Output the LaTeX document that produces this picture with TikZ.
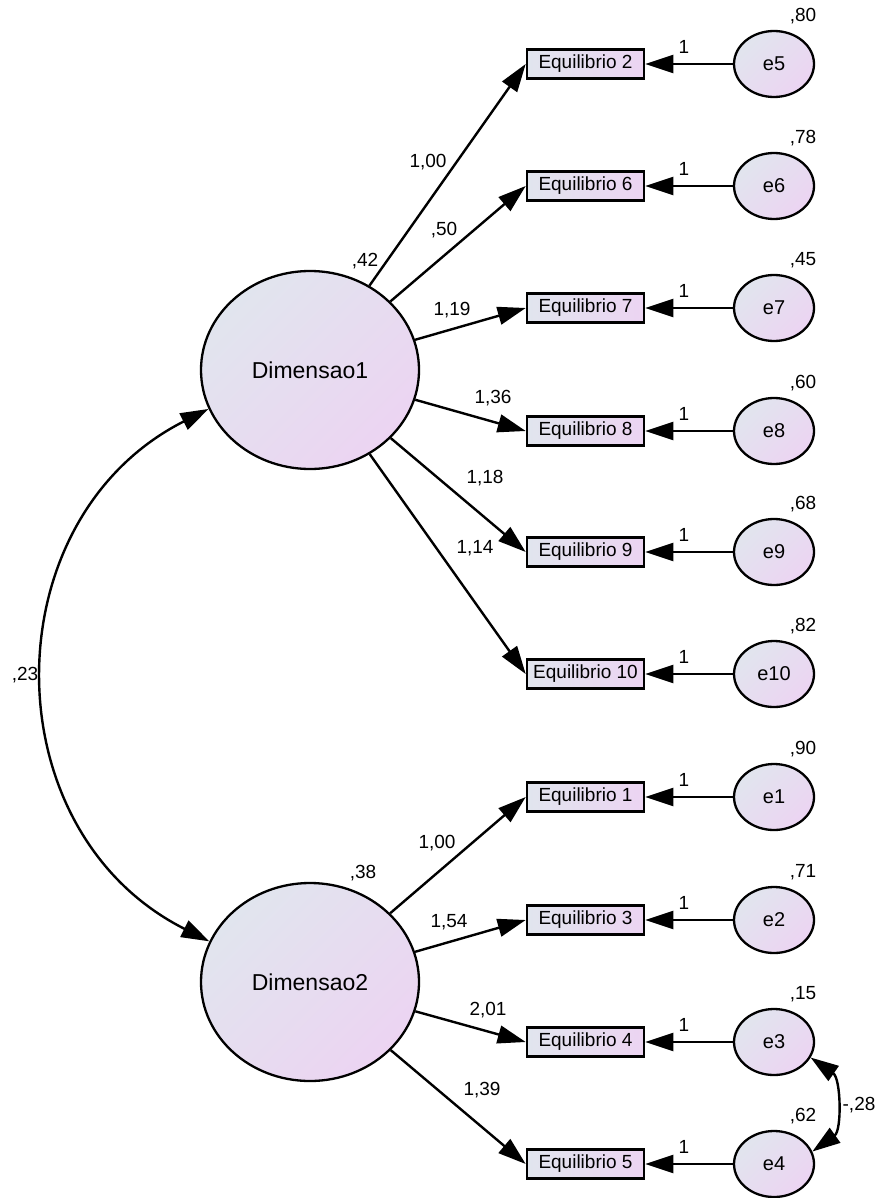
\documentclass[tikz,border=0pt]{standalone}
\usepackage{fontspec}
\setmainfont{Liberation Sans}
\usetikzlibrary{shapes.geometric,arrows.meta}
\definecolor{cA}{HTML}{E1E5EE}
\definecolor{cB}{HTML}{ECD4F2}
\begin{document}
\begin{tikzpicture}[x=1pt,y=-1pt,
 obs/.style={draw, line width=2.6pt, minimum width=117pt, minimum height=29pt, inner sep=0pt, left color=cA, right color=cB, font=\fontsize{19}{21}\selectfont},
 err/.style={draw, ellipse, line width=2.3pt, minimum width=80pt, minimum height=66pt, inner sep=0pt, top color=cA, bottom color=cB, shading angle=45, font=\fontsize{20}{22}\selectfont},
 lat/.style={draw, ellipse, line width=2.3pt, minimum width=218pt, minimum height=198pt, inner sep=0pt, top color=cA, bottom color=cB, shading angle=45, font=\fontsize{23}{25}\selectfont},
 lbl/.style={inner sep=0pt, font=\fontsize{19}{21}\selectfont},
 arr/.style={line width=2.4pt, -{Triangle[length=28pt,width=18pt]}},
 biarr/.style={line width=2.4pt, {Triangle[length=28pt,width=18pt]}-{Triangle[length=28pt,width=18pt]}},
]
\useasboundingbox (0,0) rectangle (877,1198);

% latent variables
\node[lat] (D1) at (310,370) {Dimensao1};
\node[lat] (D2) at (310,982) {Dimensao2};

% observed variables
\node[obs] (E2) at (585.5,64) {Equilibrio 2};
\node[obs] (E6) at (585.5,186) {Equilibrio 6};
\node[obs] (E7) at (585.5,308) {Equilibrio 7};
\node[obs] (E8) at (585.5,431) {Equilibrio 8};
\node[obs] (E9) at (585.5,552) {Equilibrio 9};
\node[obs] (E10) at (585.5,674) {Equilibrio 10};
\node[obs] (E1) at (585.5,797) {Equilibrio 1};
\node[obs] (E3) at (585.5,920) {Equilibrio 3};
\node[obs] (E4) at (585.5,1042) {Equilibrio 4};
\node[obs] (E5) at (585.5,1164) {Equilibrio 5};

% error terms
\node[err] (e5) at (774,64) {e5};
\node[err] (e6) at (774,186) {e6};
\node[err] (e7) at (774,308) {e7};
\node[err] (e8) at (774,431) {e8};
\node[err] (e9) at (774,552) {e9};
\node[err] (e10) at (774,674) {e10};
\node[err] (e1) at (774,797) {e1};
\node[err] (e2) at (774,920) {e2};
\node[err] (e3) at (774,1042) {e3};
\node[err] (e4) at (774,1164) {e4};

% variance labels
\node[lbl] (v5) at (803,16) {,80};
\node[lbl] (v6) at (803,138) {,78};
\node[lbl] (v7) at (803,260) {,45};
\node[lbl] (v8) at (803,383) {,60};
\node[lbl] (v9) at (803,504) {,68};
\node[lbl] (v10) at (803,626) {,82};
\node[lbl] (v1) at (803,749) {,90};
\node[lbl] (v2) at (803,872) {,71};
\node[lbl] (v3) at (803,994) {,15};
\node[lbl] (v4) at (803,1116) {,62};
\node[lbl] (vD1) at (365,261) {,42};
\node[lbl] (vD2) at (363,873) {,38};

% error paths
\draw[arr] (e5) -- (E2.east);
\draw[arr] (e6) -- (E6.east);
\draw[arr] (e7) -- (E7.east);
\draw[arr] (e8) -- (E8.east);
\draw[arr] (e9) -- (E9.east);
\draw[arr] (e10) -- (E10.east);
\draw[arr] (e1) -- (E1.east);
\draw[arr] (e2) -- (E3.east);
\draw[arr] (e3) -- (E4.east);
\draw[arr] (e4) -- (E5.east);
\node[lbl] (o5) at (684,47) {1};
\node[lbl] (o6) at (684,169) {1};
\node[lbl] (o7) at (684,291) {1};
\node[lbl] (o8) at (684,414) {1};
\node[lbl] (o9) at (684,535) {1};
\node[lbl] (o10) at (684,657) {1};
\node[lbl] (o1) at (684,780) {1};
\node[lbl] (o2) at (684,903) {1};
\node[lbl] (o3) at (684,1025) {1};
\node[lbl] (o4) at (684,1147) {1};

% loadings
\draw[arr] (D1) -- (E2.west);
\draw[arr] (D1) -- (E6.west);
\draw[arr] (D1) -- (E7.west);
\draw[arr] (D1) -- (E8.west);
\draw[arr] (D1) -- (E9.west);
\draw[arr] (D1) -- (E10.west);
\draw[arr] (D2) -- (E1.west);
\draw[arr] (D2) -- (E3.west);
\draw[arr] (D2) -- (E4.west);
\draw[arr] (D2) -- (E5.west);
\node[lbl] (l2) at (428,162) {1,00};
\node[lbl] (l6) at (444,230) {,50};
\node[lbl] (l7) at (452,310) {1,19};
\node[lbl] (l8) at (493,398) {1,36};
\node[lbl] (l9) at (485,478) {1,18};
\node[lbl] (l10) at (475,548) {1,14};
\node[lbl] (l1) at (437,843) {1,00};
\node[lbl] (l3) at (449,922) {1,54};
\node[lbl] (l4) at (488,1010) {2,01};
\node[lbl] (l5) at (482,1090) {1,39};

% covariances
\draw[biarr] (D1.201) .. controls (-8.8,518.6) and (-10.1,830.9) .. (D2.158);
\node[lbl] (c12) at (25,675) {,23};
\draw[biarr] (e3.-23) .. controls (841,1078.6) and (842,1130.3) .. (e4.18);
\node[lbl] (c34) at (859,1105) {-,28};
\end{tikzpicture}
\end{document}
